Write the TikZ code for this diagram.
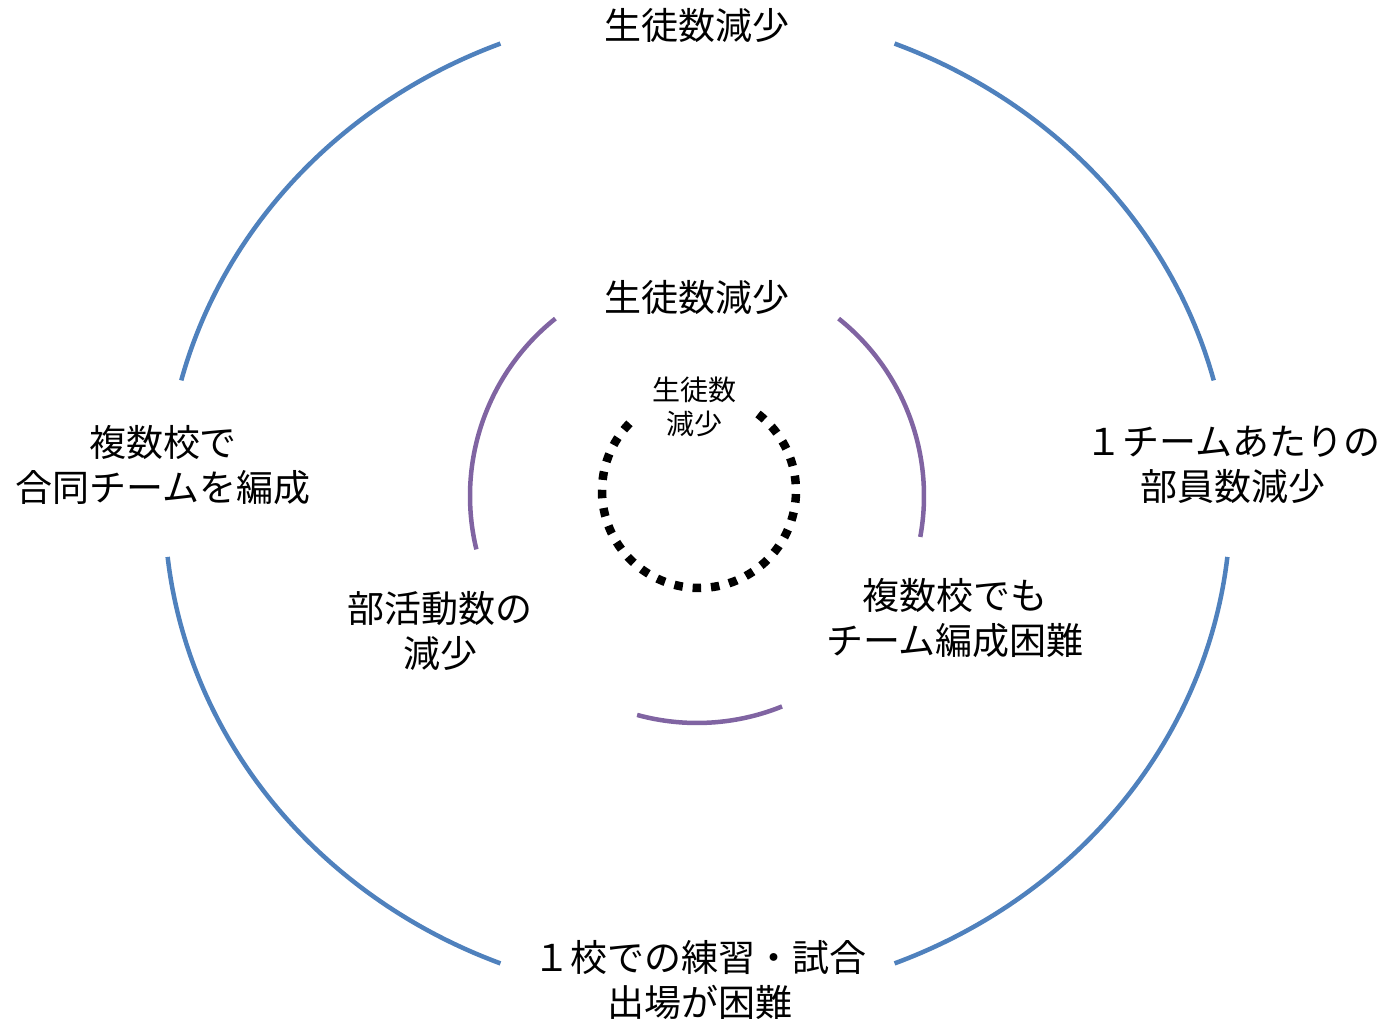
\documentclass[tikz,border=0pt]{standalone}
\usepackage{fontspec}
\setmainfont{Noto Sans CJK JP}
\definecolor{outerblue}{HTML}{4F81BD}
\definecolor{midpurple}{HTML}{8064A2}
\begin{document}
\begin{tikzpicture}[x=1pt,y=1pt,
  bigtext/.style={font=\fontsize{37}{45}\selectfont, align=center, inner sep=0pt},
  smalltext/.style={font=\fontsize{28}{34}\selectfont, align=center, inner sep=0pt},
  bluearc/.style={draw=outerblue, line width=4.5pt},
  purplearc/.style={draw=midpurple, line width=4.5pt},
  dotarc/.style={draw=black, line width=8.5pt, dash pattern=on 8.5pt off 9.9pt}]
\useasboundingbox (0,0) rectangle (1385,1019);
% outer blue ellipse arcs
\begin{scope}[shift={(697.5,515.5)}]
\draw[bluearc] (14.4:533 and 495) arc[start angle=14.4, end angle=68.3, x radius=533, y radius=495];
\draw[bluearc] (111.7:533 and 495) arc[start angle=111.7, end angle=165.6, x radius=533, y radius=495];
\draw[bluearc] (186.2:533 and 495) arc[start angle=186.2, end angle=248.3, x radius=533, y radius=495];
\draw[bluearc] (291.7:533 and 495) arc[start angle=291.7, end angle=353.8, x radius=533, y radius=495];
\end{scope}
% middle purple circle arcs
\begin{scope}[shift={(697,523)}]
\draw[purplearc] (-10.4:227) arc[start angle=-10.4, end angle=51.4, radius=227];
\draw[purplearc] (128.6:227) arc[start angle=128.6, end angle=193.6, radius=227];
\draw[purplearc] (254.7:227) arc[start angle=254.7, end angle=292, radius=227];
\end{scope}
% inner dotted circle
\begin{scope}[shift={(699,528)}]
\draw[dotarc] (135.8:97) arc[start angle=135.8, end angle=412.9, radius=97];
\end{scope}
% labels
\node[bigtext] (top) at (697,994) {生徒数減少};
\node[bigtext] (mid) at (697,722) {生徒数減少};
\node[smalltext] (inner) at (694,612) {生徒数\\減少};
\node[bigtext] (left) at (163,554) {複数校で\\合同チームを編成};
\node[bigtext] (right) at (1233,554) {１チームあたりの\\部員数減少};
\node[bigtext] (bottom) at (700,39) {１校での練習・試合\\出場が困難};
\node[bigtext] (club) at (440,388) {部活動数の\\減少};
\node[bigtext] (hard) at (955,401) {複数校でも\\チーム編成困難};
\end{tikzpicture}
\end{document}
